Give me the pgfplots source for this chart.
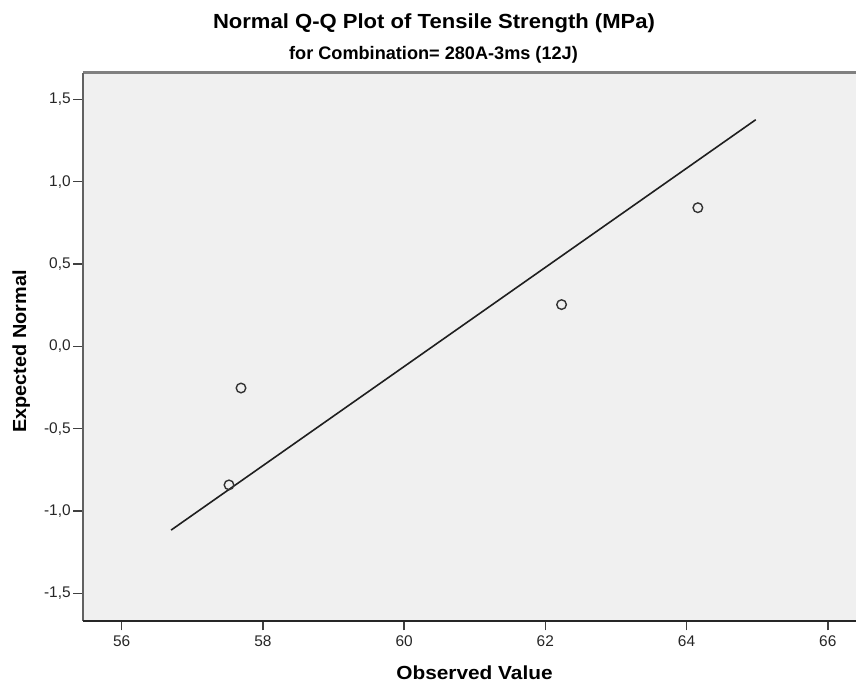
\documentclass[border=0pt]{standalone}
\usepackage{fontspec}
\setmainfont{Liberation Sans}
\usepackage{pgfplots}
\pgfplotsset{compat=1.18}
\usepackage{graphicx}
\definecolor{bgc}{RGB}{240,240,240}
\begin{document}
\begin{tikzpicture}[x=1bp,y=1bp]
\useasboundingbox (0,0) rectangle (857,684);
\begin{axis}[
  at={(82.7bp,63bp)}, anchor=south west,
  scale only axis, width=773.3bp, height=548.3bp,
  xmin=55.448, xmax=66.40, ymin=-1.668, ymax=1.6615,
  axis background/.style={fill=bgc},
  axis line style={draw=none},
  tick align=outside, xtick pos=left, ytick pos=left,
  xtick={56,58,60,62,64,66},
  ytick={-1.5,-1.0,-0.5,0,0.5,1.0,1.5},
  major tick length=9.5bp,
  major tick style={black!75, line width=1.5bp},
  /pgf/number format/assume math mode=true,
  xticklabel style={font=\fontsize{15.5}{18}\selectfont, text=black!85, yshift=-2bp},
  yticklabel style={font=\fontsize{15.5}{18}\selectfont, text=black!85, xshift=1bp,
    /pgf/number format/.cd, fixed, fixed zerofill, precision=1, use comma},
  clip=false,
]
\addplot[black!88, line width=1.6bp, no marks] coordinates {(56.70,-1.116) (64.98,1.376)};
\addplot[only marks, mark=o, mark size=4.8bp, mark options={black!80, line width=1.4bp}] coordinates {
  (57.52,-0.8416) (57.69,-0.2533) (62.23,0.2533) (64.16,0.8416)};
\draw[black!50, line width=2.5bp] (rel axis cs:0,1) -- (rel axis cs:1,1);
\draw[black!62, line width=1.8bp] (rel axis cs:0,0) -- (rel axis cs:0,1);
\draw[black!85, line width=1.5bp] (rel axis cs:0,0) -- (rel axis cs:1,0);
\end{axis}
\node[anchor=base, font=\bfseries\fontsize{20.5}{24}\selectfont] at (434,655) {\scalebox{1.08}[1]{Normal Q-Q Plot of Tensile Strength (MPa)}};
\node[anchor=base, font=\bfseries\fontsize{18.2}{22}\selectfont] at (433.5,624.5) {for Combination= 280A-3ms (12J)};
\node[anchor=base, font=\bfseries\fontsize{19}{22}\selectfont] at (474.5,4) {\scalebox{1.1}[1]{Observed Value}};
\node[anchor=base, rotate=90, font=\bfseries\fontsize{19}{22}\selectfont] at (26,332.5) {\scalebox{1.05}[1]{Expected Normal}};
\end{tikzpicture}
\end{document}
